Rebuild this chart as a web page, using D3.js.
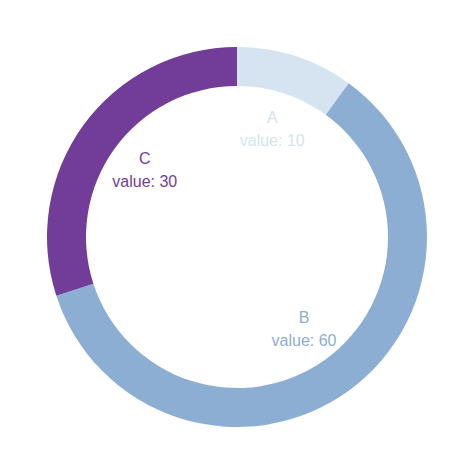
<!DOCTYPE html>
<html>
<head>
<meta charset="utf-8">
<script src="https://cdn.jsdelivr.net/npm/d3@7"></script>
<style>
  html, body { margin: 0; padding: 0; background: #fff; }
  .donut-viz { width: 474px; height: 474px; }
</style>
</head>
<body>
<div class="donut-viz"></div>
<script>
// Slice data
const names = ["A", "B", "C"];
const values = [10, 60, 30];
const colors = ["#d5e4f0", "#8daed3", "#723d98"];

const width = 474;
const height = 474;
const outerRadius = 190;
const innerRadius = 151;
const labelRadius = 114;

const svg = d3
  .select(".donut-viz")
  .append("svg")
  .attr("width", width)
  .attr("height", height);

const g = svg.append("g").attr("transform", `translate(${width / 2},${height / 2})`);

const data = names.map((n, i) => ({ name: n, value: values[i], color: colors[i] }));

const pie = d3.pie().value((d) => d.value).sort(null);
const arc = d3.arc().innerRadius(innerRadius).outerRadius(outerRadius);
const labelArc = d3.arc().innerRadius(labelRadius).outerRadius(labelRadius);

const arcs = pie(data);

g.selectAll("path")
  .data(arcs)
  .enter()
  .append("path")
  .attr("d", arc)
  .attr("fill", (d) => d.data.color);

// Two-line labels inside the ring
const labels = g
  .selectAll("text")
  .data(arcs)
  .enter()
  .append("text")
  .attr("transform", (d) => `translate(${labelArc.centroid(d)})`)
  .attr("text-anchor", "middle")
  .attr("fill", (d) => d.data.color)
  .style("font-family", "Liberation Sans, Arial, sans-serif")
  .style("font-size", "16px");

labels.append("tspan").attr("x", 0).attr("y", -6).text((d) => d.data.name);
labels.append("tspan").attr("x", 0).attr("y", 17).text((d) => `value: ${d.data.value}`);
</script>
</body>
</html>
